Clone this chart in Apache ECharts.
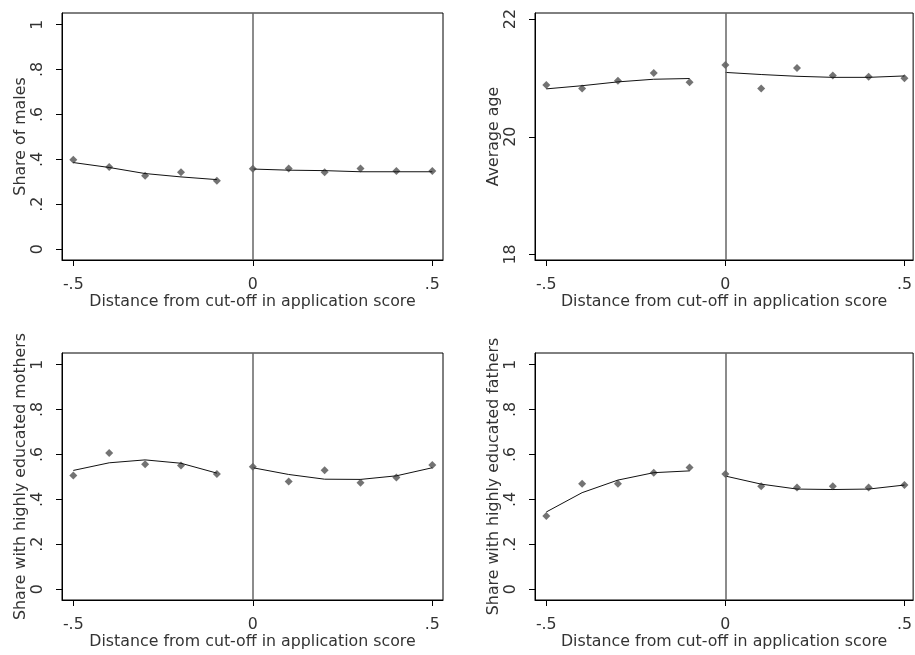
<!DOCTYPE html>
<html>
<head>
<meta charset="utf-8">
<script src="https://cdn.jsdelivr.net/npm/echarts@6/dist/echarts.min.js"></script>
<style>
html,body{margin:0;padding:0;background:#fff;}
#chart{width:915px;height:655px;}
</style>
</head>
<body>
<div id="chart"></div>
<script>
// ---- data ----
const xLeft = [-0.5, -0.4, -0.3, -0.2, -0.1];
const xRight = [0, 0.1, 0.2, 0.3, 0.4, 0.5];
const xTicks = [-0.5, 0, 0.5];
const xTickLabels = ['-.5', '0', '.5'];
const shareTicks = [0, 0.2, 0.4, 0.6, 0.8, 1];
const shareTickLabels = ['0', '.2', '.4', '.6', '.8', '1'];
const ageTicks = [18, 20, 22];
const ageTickLabels = ['18', '20', '22'];
const xTitle = 'Distance from cut-off in application score';
const panelTitles = ['Share of males', 'Average age', 'Share with highly educated mothers', 'Share with highly educated fathers'];

// Share of males
const malesLeft = [0.398, 0.366, 0.327, 0.343, 0.305];
const malesRight = [0.358, 0.360, 0.343, 0.360, 0.348, 0.348];
const malesFitLeft = [0.386, 0.364, 0.337, 0.322, 0.310];
const malesFitRight = [0.357, 0.352, 0.350, 0.345, 0.345, 0.345];
// Average age
const ageLeft = [20.880, 20.820, 20.951, 21.082, 20.927];
const ageRight = [21.218, 20.820, 21.171, 21.040, 21.022, 20.993];
const ageFitLeft = [20.814, 20.868, 20.933, 20.978, 20.990];
const ageFitRight = [21.094, 21.058, 21.028, 21.010, 21.010, 21.034];
// Highly educated mothers
const mothersLeft = [0.507, 0.607, 0.557, 0.551, 0.513];
const mothersRight = [0.545, 0.480, 0.530, 0.474, 0.498, 0.553];
const mothersFitLeft = [0.529, 0.563, 0.576, 0.561, 0.517];
const mothersFitRight = [0.541, 0.511, 0.490, 0.489, 0.505, 0.541];
// Highly educated fathers
const fathersLeft = [0.326, 0.470, 0.470, 0.519, 0.542];
const fathersRight = [0.513, 0.459, 0.453, 0.459, 0.453, 0.464];
const fathersFitLeft = [0.344, 0.430, 0.486, 0.519, 0.527];
const fathersFitRight = [0.504, 0.468, 0.446, 0.444, 0.446, 0.464];

// ---- build ----
const FONT = 'DejaVu Sans, sans-serif';
const FS = 15.8;
const TXT = '#333';
const zip = (xs, ys) => xs.map((x, i) => [x, ys[i]]);

const panels = [
  {title: panelTitles[0], ticks: shareTicks, labels: shareTickLabels, ymin: -0.048, ymax: 1.052,
   pl: malesLeft, pr: malesRight, fl: malesFitLeft, fr: malesFitRight},
  {title: panelTitles[1], ticks: ageTicks, labels: ageTickLabels, ymin: 17.905, ymax: 22.104,
   pl: ageLeft, pr: ageRight, fl: ageFitLeft, fr: ageFitRight},
  {title: panelTitles[2], ticks: shareTicks, labels: shareTickLabels, ymin: -0.048, ymax: 1.052,
   pl: mothersLeft, pr: mothersRight, fl: mothersFitLeft, fr: mothersFitRight},
  {title: panelTitles[3], ticks: shareTicks, labels: shareTickLabels, ymin: -0.048, ymax: 1.052,
   pl: fathersLeft, pr: fathersRight, fl: fathersFitLeft, fr: fathersFitRight}
];

const gridPos = [
  {left: 62, top: 13, width: 381, height: 247, xmin: -0.5315, xmax: 0.5298},
  {left: 535, top: 13, width: 379, height: 247, xmin: -0.5315, xmax: 0.5242},
  {left: 62, top: 353, width: 381, height: 247, xmin: -0.5315, xmax: 0.5298},
  {left: 535, top: 353, width: 379, height: 247, xmin: -0.5315, xmax: 0.5242}
];

const grid = [], xAxis = [], yAxis = [], series = [];
panels.forEach((p, i) => {
  const g = gridPos[i];
  grid.push({left: g.left, top: g.top, width: g.width, height: g.height,
    show: true, borderColor: '#000', borderWidth: 1, backgroundColor: '#fff'});
  xAxis.push({
    type: 'value', gridIndex: i, min: g.xmin, max: g.xmax,
    name: xTitle, nameLocation: 'middle', nameGap: 31,
    nameTextStyle: {fontFamily: FONT, fontSize: FS, color: TXT},
    axisLine: {show: true, onZero: false, lineStyle: {color: '#000', width: 1}},
    axisTick: {show: true, length: 6, customValues: xTicks, lineStyle: {color: '#000'}},
    axisLabel: {show: true, customValues: xTicks, margin: 17,
      fontFamily: FONT, fontSize: FS, color: TXT,
      formatter: v => xTickLabels[xTicks.indexOf(v)]},
    splitLine: {show: false}
  });
  yAxis.push({
    type: 'value', gridIndex: i, min: p.ymin, max: p.ymax,
    name: p.title, nameLocation: 'middle', nameGap: 33, nameRotate: 90,
    nameTextStyle: {fontFamily: FONT, fontSize: FS, color: TXT},
    axisLine: {show: true, onZero: false, lineStyle: {color: '#000', width: 1}},
    axisTick: {show: true, length: 6, customValues: p.ticks, lineStyle: {color: '#000'}},
    axisLabel: {show: true, customValues: p.ticks, rotate: 90, margin: 16,
      fontFamily: FONT, fontSize: FS, color: TXT,
      formatter: v => p.labels[p.ticks.indexOf(v)]},
    splitLine: {show: false}
  });
  series.push({
    type: 'scatter', xAxisIndex: i, yAxisIndex: i, symbol: 'diamond', symbolSize: 8,
    itemStyle: {color: '#505050'}, z: 3,
    data: zip(xLeft, p.pl).concat(zip(xRight, p.pr)),
    markLine: {silent: true, symbol: ['none', 'none'], label: {show: false},
      lineStyle: {color: '#666', width: 1.5, type: 'solid'},
      data: [{xAxis: 0}]}
  });
  series.push({
    type: 'line', xAxisIndex: i, yAxisIndex: i, symbol: 'none', z: 4,
    lineStyle: {color: '#111', width: 1}, data: zip(xLeft, p.fl)
  });
  series.push({
    type: 'line', xAxisIndex: i, yAxisIndex: i, symbol: 'none', z: 4,
    lineStyle: {color: '#111', width: 1}, data: zip(xRight, p.fr)
  });
});

const chart = echarts.init(document.getElementById('chart'), null, {renderer: 'canvas'});
chart.setOption({animation: false, backgroundColor: '#fff', grid, xAxis, yAxis, series});
</script>
</body>
</html>
